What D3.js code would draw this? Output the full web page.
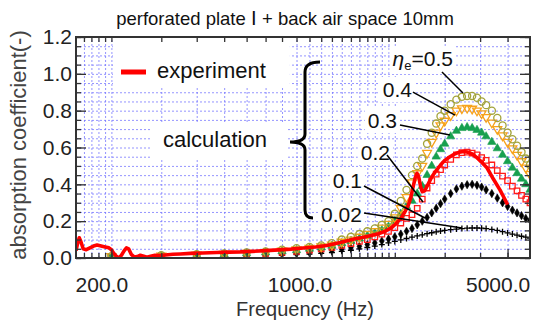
<!DOCTYPE html>
<html><head><meta charset="utf-8">
<script src="https://cdn.jsdelivr.net/npm/d3@7"></script>
<style>body{margin:0;background:#fff} svg{display:block} text{font-family:"Liberation Sans",Arial,Helvetica,sans-serif}</style>
</head><body><svg id="c" width="538" height="321"></svg>
<script>
// ---------- data ----------
const calcFreq = [200,300,400,500,600,700,800,900,1000,1100,1200,1300,1400,1500,1600,1700,1800,1900,2000,2100,2200,2300,2400,2500,2600,2700,2800,2900,3000,3150,3300,3450,3600,3750,3900,4050,4200,4400,4600,4800,5000,5200,5400,5600,5800,6000];
const eta05 = [0.01,0.015,0.02,0.025,0.03,0.035,0.045,0.053,0.06,0.068,0.08,0.10,0.115,0.13,0.145,0.16,0.18,0.20,0.24,0.31,0.37,0.45,0.50,0.54,0.62,0.68,0.73,0.77,0.80,0.835,0.86,0.875,0.88,0.88,0.87,0.85,0.83,0.80,0.76,0.72,0.68,0.645,0.61,0.575,0.54,0.505];
const eta04 = [0.01,0.013,0.018,0.022,0.027,0.032,0.04,0.047,0.054,0.062,0.072,0.088,0.10,0.115,0.13,0.145,0.165,0.185,0.22,0.27,0.33,0.41,0.46,0.50,0.57,0.63,0.68,0.72,0.745,0.775,0.80,0.812,0.815,0.81,0.80,0.785,0.765,0.735,0.70,0.665,0.63,0.595,0.56,0.525,0.49,0.455];
const eta03 = [0.008,0.012,0.016,0.02,0.025,0.03,0.036,0.042,0.05,0.057,0.066,0.08,0.092,0.105,0.12,0.135,0.15,0.17,0.20,0.24,0.28,0.31,0.35,0.39,0.45,0.50,0.55,0.59,0.62,0.66,0.69,0.705,0.71,0.705,0.695,0.68,0.66,0.63,0.595,0.56,0.525,0.49,0.46,0.43,0.40,0.37];
const eta02 = [0.007,0.01,0.013,0.017,0.021,0.025,0.03,0.036,0.043,0.05,0.058,0.068,0.078,0.09,0.10,0.115,0.13,0.145,0.165,0.19,0.215,0.235,0.27,0.32,0.38,0.42,0.455,0.48,0.505,0.535,0.56,0.572,0.575,0.57,0.56,0.545,0.53,0.505,0.475,0.445,0.42,0.39,0.365,0.34,0.32,0.30];
const eta01 = [0.005,0.007,0.009,0.012,0.015,0.018,0.021,0.025,0.03,0.035,0.041,0.048,0.056,0.064,0.073,0.082,0.092,0.103,0.115,0.13,0.145,0.16,0.18,0.20,0.22,0.245,0.27,0.295,0.32,0.35,0.375,0.39,0.398,0.40,0.395,0.385,0.37,0.35,0.325,0.30,0.28,0.26,0.245,0.23,0.215,0.205];
const eta002 = [0.003,0.004,0.006,0.008,0.01,0.012,0.015,0.018,0.021,0.025,0.03,0.036,0.042,0.05,0.057,0.065,0.073,0.082,0.09,0.098,0.106,0.113,0.12,0.126,0.132,0.137,0.142,0.146,0.15,0.154,0.157,0.16,0.162,0.163,0.163,0.162,0.16,0.155,0.15,0.143,0.136,0.13,0.124,0.118,0.113,0.108];
const expFreq = [150,152,154,156,159,163,168,173,178,184,190,196,200,204,208,212,217,222,226,230,235,241,247,253,260,267,275,285,296,310,330,350,380,420,470,520,570,630,700,780,860,950,1050,1150,1250,1350,1450,1550,1650,1750,1850,1950,2030,2100,2170,2230,2280,2320,2360,2395,2430,2465,2500,2550,2620,2700,2800,2900,3000,3130,3250,3380,3500,3620,3750,3900,4050,4230,4450,4700,4850,5000];
const expAbs = [0.04,0.08,0.11,0.09,0.05,0.045,0.055,0.065,0.07,0.065,0.06,0.055,0.045,0.025,0.01,0.0,0.015,0.04,0.055,0.05,0.02,0.005,0.008,0.015,0.01,0.004,0.01,0.015,0.013,0.016,0.02,0.022,0.025,0.027,0.03,0.032,0.033,0.036,0.04,0.044,0.048,0.054,0.06,0.068,0.08,0.092,0.104,0.113,0.122,0.132,0.145,0.165,0.19,0.215,0.25,0.285,0.33,0.385,0.435,0.46,0.44,0.39,0.36,0.365,0.40,0.44,0.475,0.505,0.53,0.55,0.565,0.575,0.578,0.575,0.565,0.545,0.52,0.49,0.43,0.37,0.33,0.29];
const xTickLabels = [200,1000,5000];
const xMinorTicks = [160,170,180,190,200,300,400,500,600,700,800,900,1000,1100,1200,1300,1400,1500,1600,1700,1800,1900,2000,3000,4000,5000];
const yTickLabels = [0,0.2,0.4,0.6,0.8,1.0,1.2];
const yMinorTicks = d3.range(0,1.2001,0.05);
const etaNames = ["0.5","0.4","0.3","0.2","0.1","0.02"];

// ---------- layout ----------
const svg = d3.select("#c");
const L=76,R=530,T=37,B=258;
const x = d3.scaleLog().domain([150,6000]).range([L,R]);
const y = d3.scaleLinear().domain([0,1.2]).range([B,T]);
const FONT = '"Liberation Sans",Arial,Helvetica,sans-serif';

svg.append("rect").attr("width",538).attr("height",321).attr("fill","#fff");
const gGrid = svg.append("g");
const gBox = svg.append("g");
const gMarks = svg.append("g");
const gAxes = svg.append("g");
const gText = svg.append("g");

// grid
gGrid.append("g").attr("transform",`translate(0,${B})`)
  .call(d3.axisBottom(x).tickValues(xMinorTicks).tickSize(-(B-T)).tickFormat(""))
  .call(g=>g.select(".domain").remove());
gGrid.append("g").attr("transform",`translate(${L},0)`)
  .call(d3.axisLeft(y).tickValues(yMinorTicks).tickSize(-(R-L)).tickFormat(""))
  .call(g=>g.select(".domain").remove());
gGrid.selectAll("line").attr("stroke","#7070ff").attr("stroke-width",1).attr("stroke-dasharray","2,2").attr("opacity",0.75);

// white boxes behind text
function boxed(textSel, pad){
  const b = textSel.node().getBBox();
  gBox.append("rect").attr("x",b.x-pad[0]).attr("y",b.y-pad[1])
    .attr("width",b.width+pad[0]+pad[2]).attr("height",b.height+pad[1]+pad[3]).attr("fill","#fff");
}

// clip
svg.append("clipPath").attr("id","clip").append("rect").attr("x",L).attr("y",T).attr("width",R-L).attr("height",B-T);
gMarks.attr("clip-path","url(#clip)");

// calc series
const series = [
  {v:eta05, kind:"circle", color:"#a3a33a"},
  {v:eta04, kind:"tridown", color:"#f7a21b"},
  {v:eta03, kind:"triup", color:"#17a04f"},
  {v:eta02, kind:"square", color:"#ff1a1a"},
  {v:eta01, kind:"diamond", color:"#000"},
  {v:eta002, kind:"plus", color:"#000"}
];
const shapes = {
  circle: d3.symbol(d3.symbolCircle, 40)(),
  tridown: d3.symbol(d3.symbolTriangle, 34)(),
  triup: d3.symbol(d3.symbolTriangle, 30)(),
  square: d3.symbol(d3.symbolSquare, 30)(),
  diamond: d3.symbol(d3.symbolDiamond, 20)(),
  plus: "M-3,0H3M0,-3V3"
};
series.slice().reverse().forEach(s=>{
  const filled = (s.kind==="triup"||s.kind==="diamond");
  gMarks.append("g").selectAll("path").data(calcFreq.map((f,i)=>[f,s.v[i]])).join("path")
    .attr("d",shapes[s.kind])
    .attr("transform",d=>`translate(${x(d[0])},${y(d[1])})${s.kind==="tridown"?" rotate(180)":""}`)
    .attr("fill",filled?s.color:"none")
    .attr("stroke",s.color)
    .attr("stroke-width",filled?0.6:1.3);
});

// experiment
gMarks.append("path").datum(expFreq.map((f,i)=>[f,expAbs[i]]))
  .attr("d",d3.line().x(d=>x(d[0])).y(d=>y(d[1])))
  .attr("fill","none").attr("stroke","#ff0000").attr("stroke-width",3.6).attr("stroke-linejoin","round");

// axes ticks (inward, all sides)
function styleAxis(g){ g.select(".domain").remove(); g.selectAll("line").attr("stroke","#333").attr("stroke-width",1.3);
  g.selectAll("text").attr("fill","#222").attr("font-size",21).attr("font-family",FONT); }
gAxes.append("g").attr("transform",`translate(0,${B})`).call(d3.axisBottom(x).tickValues(xMinorTicks).tickSize(-5).tickFormat("")).call(styleAxis);
gAxes.append("g").attr("transform",`translate(0,${T})`).call(d3.axisTop(x).tickValues(xMinorTicks).tickSize(-5).tickFormat("")).call(styleAxis);
gAxes.append("g").attr("transform",`translate(0,${B})`).call(d3.axisBottom(x).tickValues(xTickLabels).tickSize(-9).tickPadding(19).tickFormat(d3.format(".1f"))).call(styleAxis)
  .call(g=>g.selectAll("text").attr("dx",-10));
gAxes.append("g").attr("transform",`translate(${L},0)`).call(d3.axisLeft(y).tickValues(yMinorTicks).tickSize(-5).tickFormat("")).call(styleAxis);
gAxes.append("g").attr("transform",`translate(${R},0)`).call(d3.axisRight(y).tickValues(yMinorTicks).tickSize(-5).tickFormat("")).call(styleAxis);
gAxes.append("g").attr("transform",`translate(${L},0)`).call(d3.axisLeft(y).tickValues(yTickLabels).tickSize(-10).tickPadding(4).tickFormat(d3.format(".1f"))).call(styleAxis);
gAxes.append("g").attr("transform",`translate(${R},0)`).call(d3.axisRight(y).tickValues(yTickLabels).tickSize(-10).tickFormat("")).call(styleAxis);
gAxes.append("rect").attr("x",L).attr("y",T).attr("width",R-L).attr("height",B-T)
  .attr("fill","none").attr("stroke","#333").attr("stroke-width",2);

// title & axis labels
svg.append("text").attr("x",285).attr("y",25).attr("text-anchor","middle").attr("font-size",18.5).attr("fill","#111")
  .text("perforated plate  \u2160 + back air space 10mm");
svg.append("text").attr("x",305).attr("y",316).attr("text-anchor","middle").attr("font-size",20).attr("fill","#333")
  .text("Frequency (Hz)");
svg.append("text").attr("transform","translate(26,145) rotate(-90)").attr("text-anchor","middle").attr("font-size",22).attr("fill","#444")
  .text("absorption coefficient(-)");

// legend
const lg = gText.append("g");
lg.append("line").attr("x1",121).attr("x2",146).attr("y1",72).attr("y2",72).attr("stroke","#ff0000").attr("stroke-width",5);
lg.append("text").attr("x",157).attr("y",78).attr("font-size",22).attr("fill","#111").text("experiment");
boxed(lg,[8,20,24,5]);
const calc = gText.append("text").attr("x",163).attr("y",147).attr("font-size",22).attr("fill","#111").text("calculation");
boxed(calc,[13,3,20,6]);
// brace
gText.append("path").attr("d","M320,62 Q305,62 305,72 L305,134 Q305,142 290,142 Q305,142 305,150 L305,210 Q305,218 313,218")
  .attr("fill","none").attr("stroke","#000").attr("stroke-width",3);

// eta annotations (data coordinates)
const labelAt = [[3209,1.0425],[2300,0.874],[2036,0.706],[1923,0.532],[1532,0.38],[1532,0.195]];
const leaders = [[2934,1.01,3480,0.896],[2318,0.901,3262,0.776],[2086,0.722,3130,0.668],[1877,0.559,2515,0.304],[1557,0.391,2556,0.217],[1557,0.244,3452,0.163]];
etaNames.forEach((n,i)=>{
  const t = gText.append("text").attr("x",x(labelAt[i][0])).attr("y",y(labelAt[i][1]))
    .attr("text-anchor","end").attr("font-size",21).attr("fill","#111");
  if(i===0){
    t.append("tspan").attr("font-style","italic").text("\u03b7");
    t.append("tspan").attr("font-size",13).attr("dy",4).text("e");
    t.append("tspan").attr("dy",-4).text("=" + n);
  } else t.text(n);
  boxed(t,[3,1,3,1]);
  const l = leaders[i];
  gText.append("line").attr("x1",x(l[0])).attr("y1",y(l[1])).attr("x2",x(l[2])).attr("y2",y(l[3]))
    .attr("stroke","#000").attr("stroke-width",1.5);
});
</script></body></html>
